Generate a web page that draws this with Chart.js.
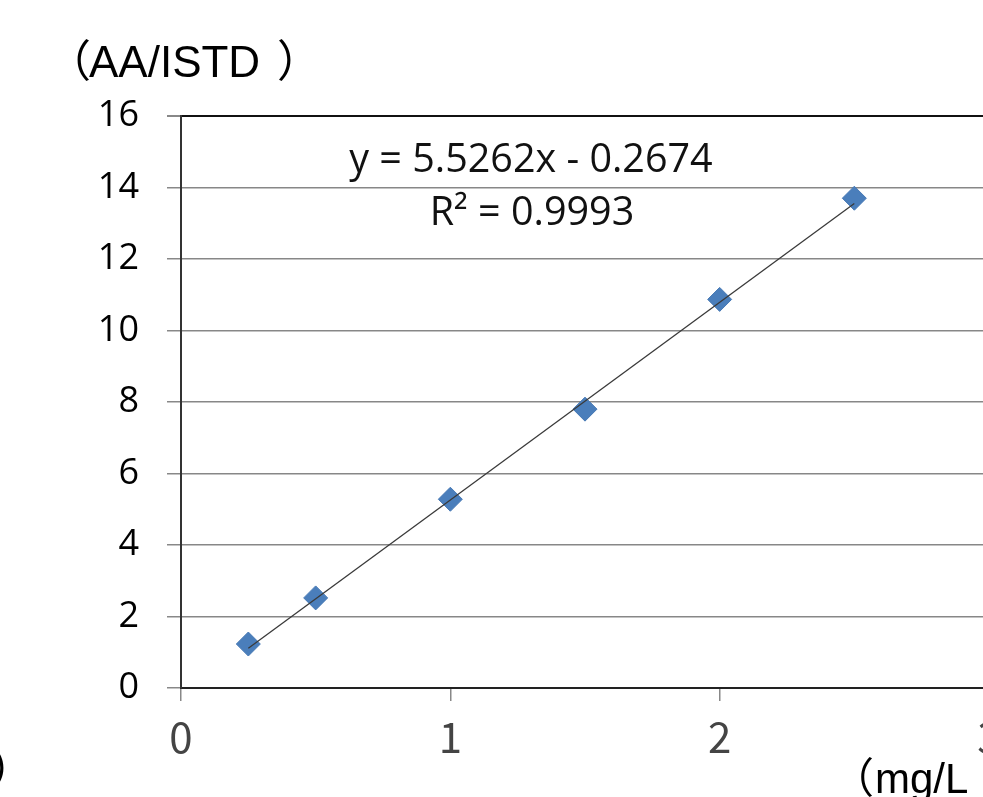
<!DOCTYPE html>
<html>
<head>
<meta charset="utf-8">
<script src="https://cdn.jsdelivr.net/npm/chart.js@4"></script>
<style>
  html, body { margin: 0; padding: 0; overflow: hidden; background: #fff; }
  #wrap { width: 1020px; height: 797px; position: relative; }
</style>
</head>
<body>
<div id="wrap"><canvas id="myChart"></canvas></div>
<script>
const conc = [0.25, 0.5, 1, 1.5, 2, 2.5];
const ratio = [1.23, 2.52, 5.28, 7.8, 10.87, 13.7];
const trendX = [0.25, 2.5];
const trendY = [1.11, 13.55];
const equation = "y = 5.5262x - 0.2674";
const rSquared = "R² = 0.9993";

const points = conc.map((x, i) => ({ x: x, y: ratio[i] }));
const trend = trendX.map((x, i) => ({ x: x, y: trendY[i] }));

const labelsPlugin = {
  id: "labels",
  afterDraw(chart) {
    const ctx = chart.ctx;
    ctx.save();
    ctx.textBaseline = "alphabetic";

    // equation
    ctx.font = "39.5px 'Open Sans'";
    ctx.textAlign = "center";
    ctx.fillStyle = "#111";
    ctx.fillText(equation, 531, 172);
    ctx.fillText(rSquared, 532, 225);

    // y axis title
    ctx.fillStyle = "#000";
    ctx.font = "44px 'Noto Sans CJK JP'";
    ctx.textAlign = "right";
    ctx.fillText("（", 91, 77);
    ctx.textAlign = "left";
    ctx.fillText("）", 277, 77);
    ctx.font = "44px 'Liberation Sans'";
    ctx.fillText("AA/ISTD", 89, 77);

    // x axis title (cut off at the right)
    ctx.font = "42px 'Noto Sans CJK JP'";
    ctx.textAlign = "right";
    ctx.fillText("（", 874, 793);
    ctx.font = "42px 'Liberation Sans'";
    ctx.textAlign = "left";
    ctx.fillText("mg/L", 875, 793);

    // leftover bracket at the left edge
    ctx.font = "44px 'Noto Sans CJK JP'";
    ctx.fillText("）", -10, 785);
    ctx.restore();
  }
};

const config = {
  type: "scatter",
  data: {
    datasets: [
      {
        label: "trend",
        data: trend,
        showLine: true,
        borderColor: "#3a3a3a",
        borderWidth: 1.3,
        pointRadius: 0,
        order: 0,
      },
      {
        label: "AA/ISTD",
        data: points,
        pointStyle: "rectRot",
        pointRadius: 12,
        backgroundColor: "#4a7ebb",
        borderColor: "#4678b4",
        borderWidth: 1,
        order: 1,
      },
    ],
  },
  options: {
    responsive: true,
    maintainAspectRatio: false,
    animation: false,
    layout: { padding: { top: 116, right: 31, left: 0, bottom: 0 } },
    plugins: {
      legend: { display: false },
      tooltip: { enabled: false },
    },
    scales: {
      x: {
        type: "linear",
        min: 0,
        max: 3,
        afterFit: (s) => { s.height = 109; },
        ticks: {
          stepSize: 1,
          padding: 11,
          color: "#444",
          font: { family: "'Liberation Sans Narrow', 'Noto Sans CJK JP'", size: 42 },
        },
        grid: {
          drawOnChartArea: false,
          tickLength: 13,
          tickColor: "#888",
          lineWidth: 1.5,
        },
        border: { color: "#222", width: 2 },
      },
      y: {
        min: 0,
        max: 16,
        afterFit: (s) => { s.width = 181; },
        ticks: {
          stepSize: 2,
          padding: 28,
          color: "#000",
          font: { family: "'Open Sans'", size: 36 },
        },
        grid: {
          color: (c) => (c.tick && c.tick.value === 16 ? "#111" : "#878787"),
          lineWidth: (c) => (c.tick && c.tick.value === 16 ? 2 : 1.5),
          tickLength: 14,
          tickColor: "#888",
        },
        border: { color: "#333", width: 2 },
      },
    },
  },
  plugins: [labelsPlugin],
};

const myChart = new Chart(document.getElementById("myChart"), config);
</script>
</body>
</html>
